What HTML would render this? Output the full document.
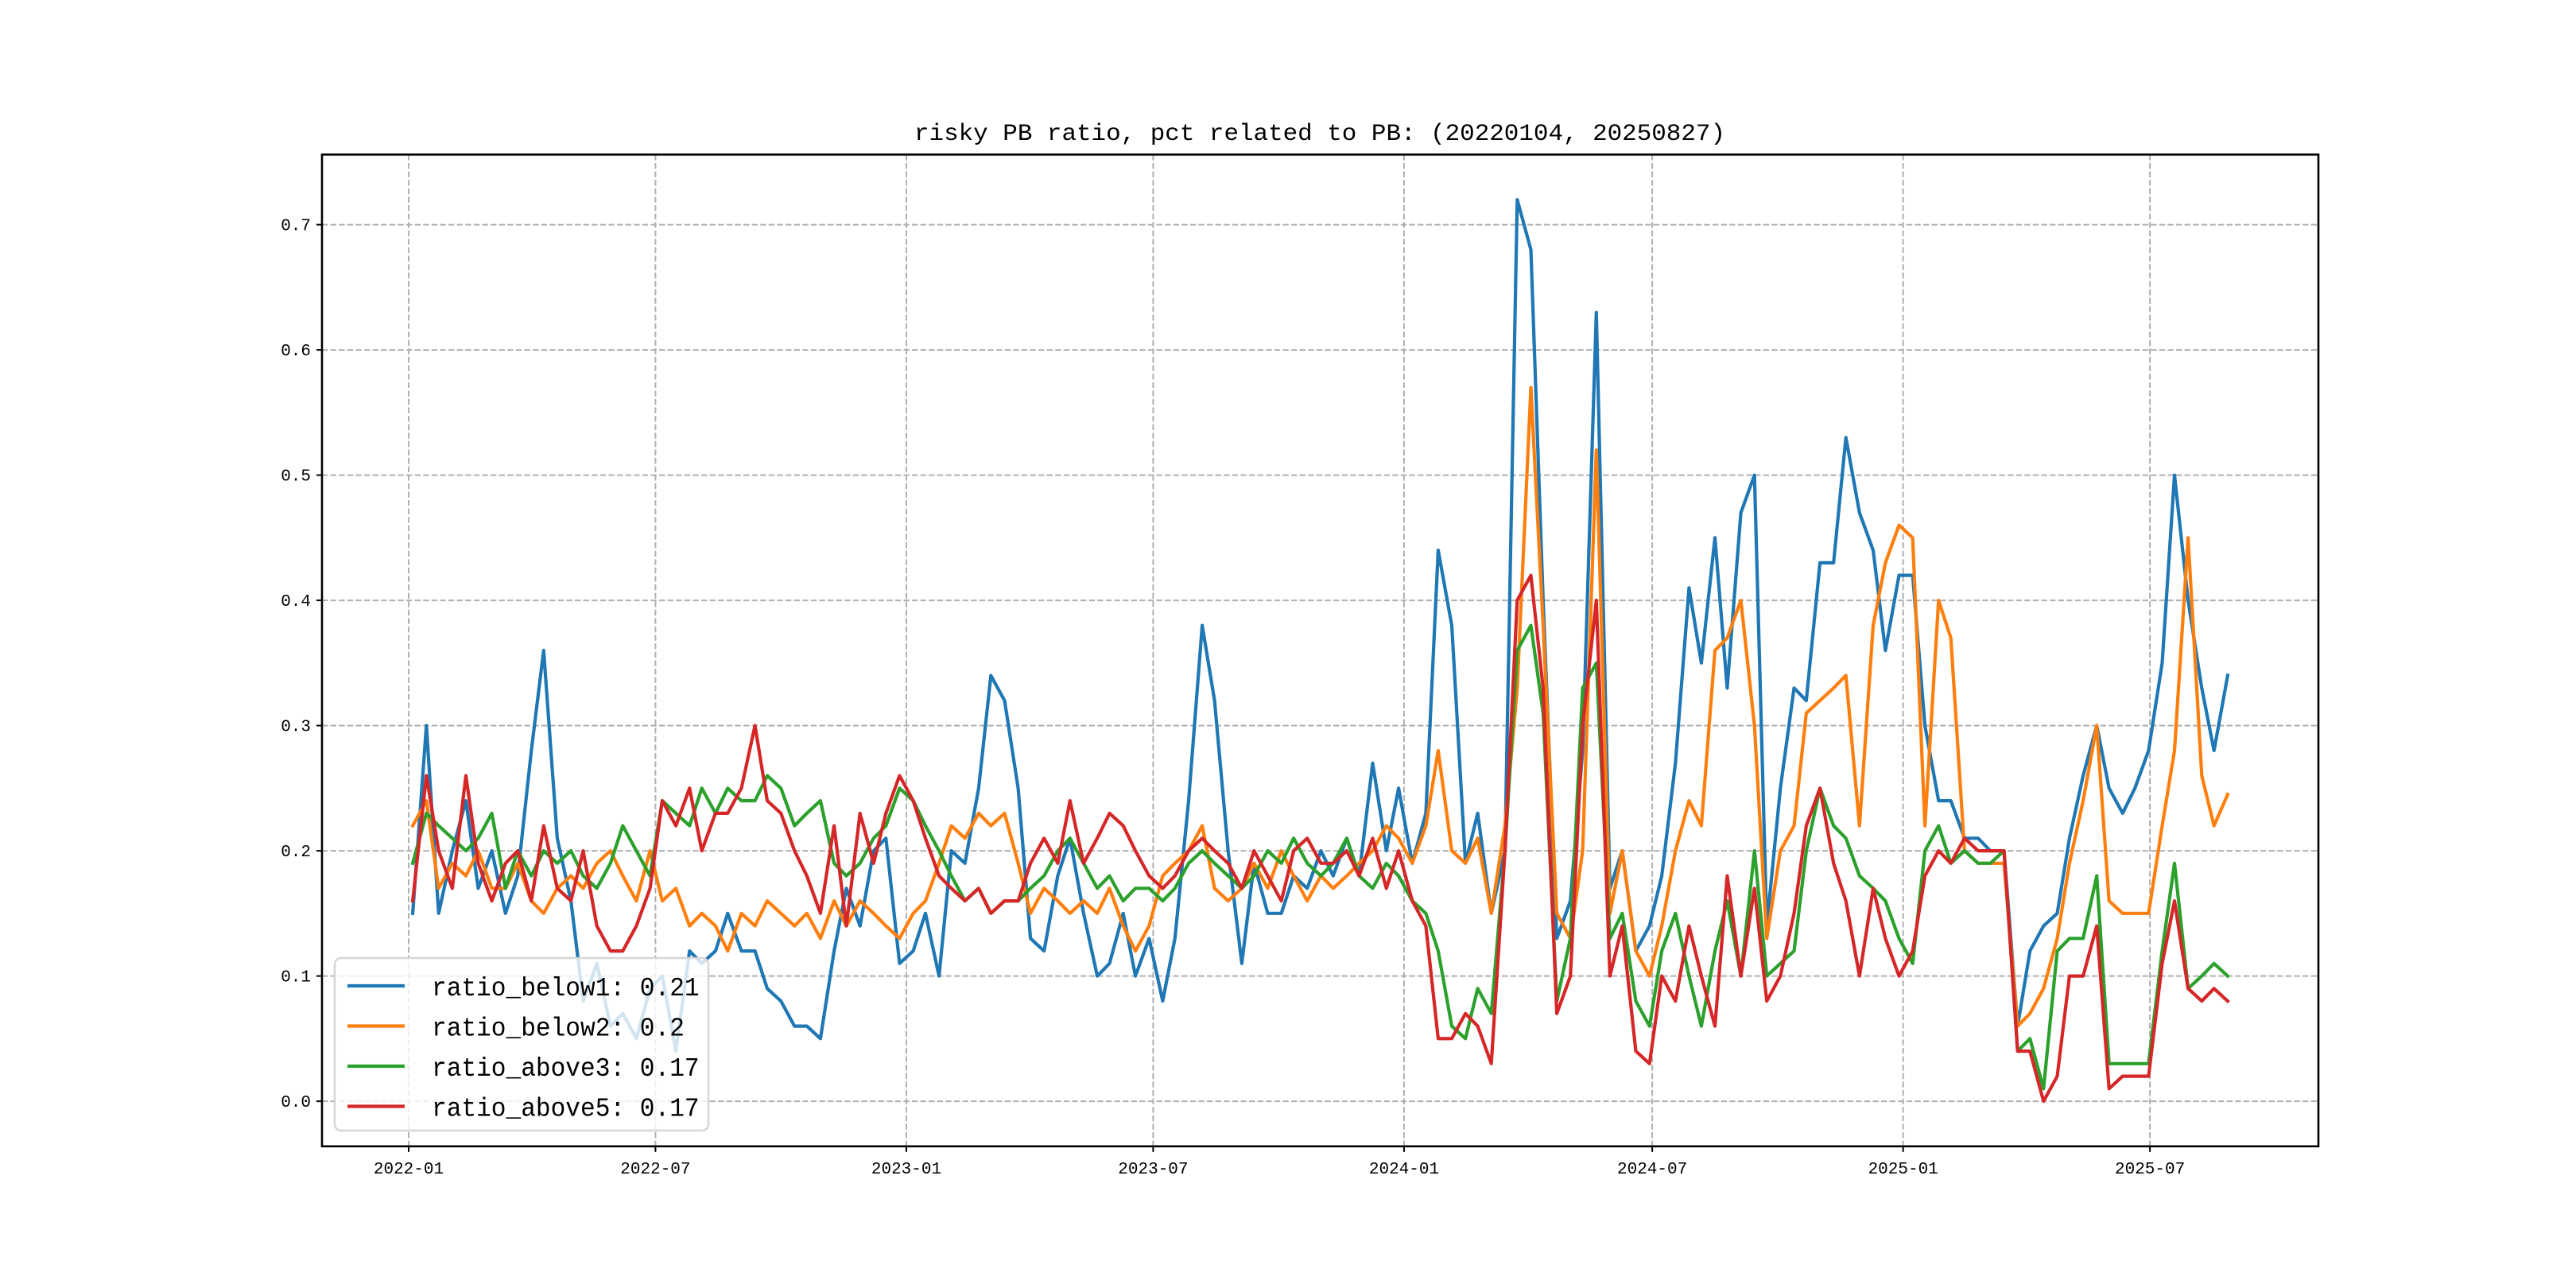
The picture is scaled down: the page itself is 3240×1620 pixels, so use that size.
<!DOCTYPE html>
<html><head><meta charset="utf-8"><style>
html,body{margin:0;padding:0;background:#fff;}
svg{display:block;}
text{font-family:"Liberation Mono","WenQuanYi Zen Hei",monospace;}
</style></head><body>
<svg id="chart" width="3240" height="1620" viewBox="0 0 3240 1620" xmlns="http://www.w3.org/2000/svg">
<rect width="3240" height="1620" fill="#fff"/>
<text x="1660" y="176" font-size="30" text-anchor="middle" textLength="1020" lengthAdjust="spacingAndGlyphs">risky PB ratio, pct related to PB: (20220104, 20250827)</text>
<g id="grid"></g>
<g id="series"></g>
<rect x="405" y="194.4" width="2511" height="1247.4" fill="none" stroke="#000" stroke-width="2.6"/>
<g id="axes"></g>
<g id="legend"></g>
</svg>
<script>
const startDate = "2022-01-04";
const endDate = "2025-08-27";
const seriesNames = ["ratio_below1: 0.21","ratio_below2: 0.2","ratio_above3: 0.17","ratio_above5: 0.17"];
const seriesColors = ["#1f77b4","#ff7f0e","#2ca02c","#d62728"];
const xTickLabels = ["2022-01","2022-07","2023-01","2023-07","2024-01","2024-07","2025-01","2025-07"];
const yTickValues = [0.0,0.1,0.2,0.3,0.4,0.5,0.6,0.7];
const below1 = [0.15,0.30,0.15,0.20,0.24,0.17,0.20,0.15,0.18,0.28,0.36,0.21,0.16,0.08,0.11,0.06,0.07,0.05,0.09,0.10,0.04,0.12,0.11,0.12,0.15,0.12,0.12,0.09,0.08,0.06,0.06,0.05,0.12,0.17,0.14,0.20,0.21,0.11,0.12,0.15,0.10,0.20,0.19,0.25,0.34,0.32,0.25,0.13,0.12,0.18,0.21,0.15,0.10,0.11,0.15,0.10,0.13,0.08,0.13,0.24,0.38,0.32,0.20,0.11,0.19,0.15,0.15,0.18,0.17,0.20,0.18,0.21,0.18,0.27,0.20,0.25,0.19,0.23,0.44,0.38,0.19,0.23,0.15,0.20,0.72,0.68,0.40,0.13,0.16,0.28,0.63,0.17,0.20,0.12,0.14,0.18,0.27,0.41,0.35,0.45,0.33,0.47,0.50,0.14,0.25,0.33,0.32,0.43,0.43,0.53,0.47,0.44,0.36,0.42,0.42,0.30,0.24,0.24,0.21,0.21,0.20,0.20,0.06,0.12,0.14,0.15,0.21,0.26,0.30,0.25,0.23,0.25,0.28,0.35,0.50,0.40,0.33,0.28,0.34];
const below2 = [0.22,0.24,0.17,0.19,0.18,0.20,0.17,0.17,0.19,0.16,0.15,0.17,0.18,0.17,0.19,0.20,0.18,0.16,0.20,0.16,0.17,0.14,0.15,0.14,0.12,0.15,0.14,0.16,0.15,0.14,0.15,0.13,0.16,0.14,0.16,0.15,0.14,0.13,0.15,0.16,0.19,0.22,0.21,0.23,0.22,0.23,0.19,0.15,0.17,0.16,0.15,0.16,0.15,0.17,0.14,0.12,0.14,0.18,0.19,0.20,0.22,0.17,0.16,0.17,0.19,0.17,0.20,0.18,0.16,0.18,0.17,0.18,0.19,0.20,0.22,0.21,0.19,0.22,0.28,0.20,0.19,0.21,0.15,0.22,0.33,0.57,0.38,0.15,0.13,0.20,0.52,0.15,0.20,0.12,0.10,0.14,0.20,0.24,0.22,0.36,0.37,0.40,0.30,0.13,0.20,0.22,0.31,0.32,0.33,0.34,0.22,0.38,0.43,0.46,0.45,0.22,0.40,0.37,0.20,0.19,0.19,0.19,0.06,0.07,0.09,0.13,0.19,0.24,0.30,0.16,0.15,0.15,0.15,0.22,0.28,0.45,0.26,0.22,0.245];
const above3 = [0.19,0.23,0.22,0.21,0.20,0.21,0.23,0.17,0.20,0.18,0.20,0.19,0.20,0.18,0.17,0.19,0.22,0.20,0.18,0.24,0.23,0.22,0.25,0.23,0.25,0.24,0.24,0.26,0.25,0.22,0.23,0.24,0.19,0.18,0.19,0.21,0.22,0.25,0.24,0.22,0.20,0.18,0.16,0.17,0.15,0.16,0.16,0.17,0.18,0.20,0.21,0.19,0.17,0.18,0.16,0.17,0.17,0.16,0.17,0.19,0.20,0.19,0.18,0.17,0.18,0.20,0.19,0.21,0.19,0.18,0.19,0.21,0.18,0.17,0.19,0.18,0.16,0.15,0.12,0.06,0.05,0.09,0.07,0.20,0.36,0.38,0.31,0.08,0.13,0.33,0.35,0.13,0.15,0.08,0.06,0.12,0.15,0.10,0.06,0.12,0.16,0.10,0.20,0.10,0.11,0.12,0.20,0.25,0.22,0.21,0.18,0.17,0.16,0.13,0.11,0.20,0.22,0.19,0.20,0.19,0.19,0.20,0.04,0.05,0.01,0.12,0.13,0.13,0.18,0.03,0.03,0.03,0.03,0.12,0.19,0.09,0.10,0.11,0.10];
const above5 = [0.16,0.26,0.20,0.17,0.26,0.19,0.16,0.19,0.20,0.16,0.22,0.17,0.16,0.20,0.14,0.12,0.12,0.14,0.17,0.24,0.22,0.25,0.20,0.23,0.23,0.25,0.30,0.24,0.23,0.20,0.18,0.15,0.22,0.14,0.23,0.19,0.23,0.26,0.24,0.21,0.18,0.17,0.16,0.17,0.15,0.16,0.16,0.19,0.21,0.19,0.24,0.19,0.21,0.23,0.22,0.20,0.18,0.17,0.18,0.20,0.21,0.20,0.19,0.17,0.20,0.18,0.16,0.20,0.21,0.19,0.19,0.20,0.18,0.21,0.17,0.20,0.16,0.14,0.05,0.05,0.07,0.06,0.03,0.20,0.40,0.42,0.33,0.07,0.10,0.30,0.40,0.10,0.14,0.04,0.03,0.10,0.08,0.14,0.10,0.06,0.18,0.10,0.17,0.08,0.10,0.15,0.22,0.25,0.19,0.16,0.10,0.17,0.13,0.10,0.12,0.18,0.20,0.19,0.21,0.20,0.20,0.20,0.04,0.04,0.00,0.02,0.10,0.10,0.14,0.01,0.02,0.02,0.02,0.11,0.16,0.09,0.08,0.09,0.08];

const NS = "http://www.w3.org/2000/svg";
const L = 405, R = 2916, T = 194.4, B = 1441.8;
const DAY = 86400000;
const t0 = Date.parse(startDate), t1 = Date.parse(endDate);
const span = t1 - t0, xmin = t0 - span * 0.05, xmax = t1 + span * 0.05;
const ymin = -0.036, ymax = 0.756;
function xScale(t){ return L + (t - xmin) / (xmax - xmin) * (R - L); }
function yScale(v){ return B - (v - ymin) / (ymax - ymin) * (B - T); }
function mk(tag, attrs, parent){ const e = document.createElementNS(NS, tag); for (const k in attrs) e.setAttribute(k, attrs[k]); parent.appendChild(e); return e; }
const grid = document.getElementById('grid'), axes = document.getElementById('axes'), sg = document.getElementById('series'), lg = document.getElementById('legend');

yTickValues.forEach(v => {
  const y = yScale(v);
  const gl = mk('line', {x1:L, x2:R, y1:y, y2:y, stroke:'#b0b0b0', 'stroke-width':2, 'stroke-dasharray':'7.4,3.2'}, grid);
  
  
  const tk = mk('line', {x1:L-7, x2:L, y1:y, y2:y, stroke:'#000', 'stroke-width':2}, axes);
  
  
  const tx = mk('text', {x:L-14, y:y+7, 'font-size':21, 'text-anchor':'end'}, axes);
  tx.textContent = v.toFixed(1);
  
  
});
xTickLabels.forEach(lbl => {
  const x = xScale(Date.parse(lbl + "-01"));
  const gl = mk('line', {x1:x, x2:x, y1:T, y2:B, stroke:'#b0b0b0', 'stroke-width':2, 'stroke-dasharray':'7.4,3.2'}, grid);
  
  
  const tk = mk('line', {x1:x, x2:x, y1:B, y2:B+7, stroke:'#000', 'stroke-width':2}, axes);
  
  
  const tx = mk('text', {x:x, y:B+34, 'font-size':21, 'text-anchor':'middle'}, axes);
  tx.textContent = lbl;
  
  
});

const allSeries = [below1, below2, above3, above5];
const seriesKeys = ['ratio-below1-line','ratio-below2-line','ratio-above3-line','ratio-above5-line'];
allSeries.forEach((vals, s) => {
  const n = vals.length;
  const pts = vals.map((v, i) => {
    const t = t0 + Math.round(i * (span / DAY) / (n - 1)) * DAY;
    return xScale(t).toFixed(1) + ',' + yScale(v).toFixed(1);
  }).join(' ');
  const pl = mk('polyline', {points:pts, fill:'none', stroke:seriesColors[s], 'stroke-width':4.2, 'stroke-linejoin':'round', 'stroke-linecap':'square'}, sg);
  
  
});

const box = mk('rect', {x:421, y:1205, width:470, height:217, rx:8, fill:'#fff', 'fill-opacity':0.8, stroke:'#d6d6d6', 'stroke-width':2.5}, lg);


seriesNames.forEach((nm, s) => {
  const y = 1240 + s * 50.5;
  const ln = mk('line', {x1:437, x2:509, y1:y, y2:y, stroke:seriesColors[s], 'stroke-width':4.2}, lg);
  
  
  const tx = mk('text', {x:543, y:y+12, 'font-size':33, textLength:18.7 * nm.length, lengthAdjust:'spacingAndGlyphs'}, lg);
  tx.textContent = nm;
  
  
});
</script>
</body></html>
